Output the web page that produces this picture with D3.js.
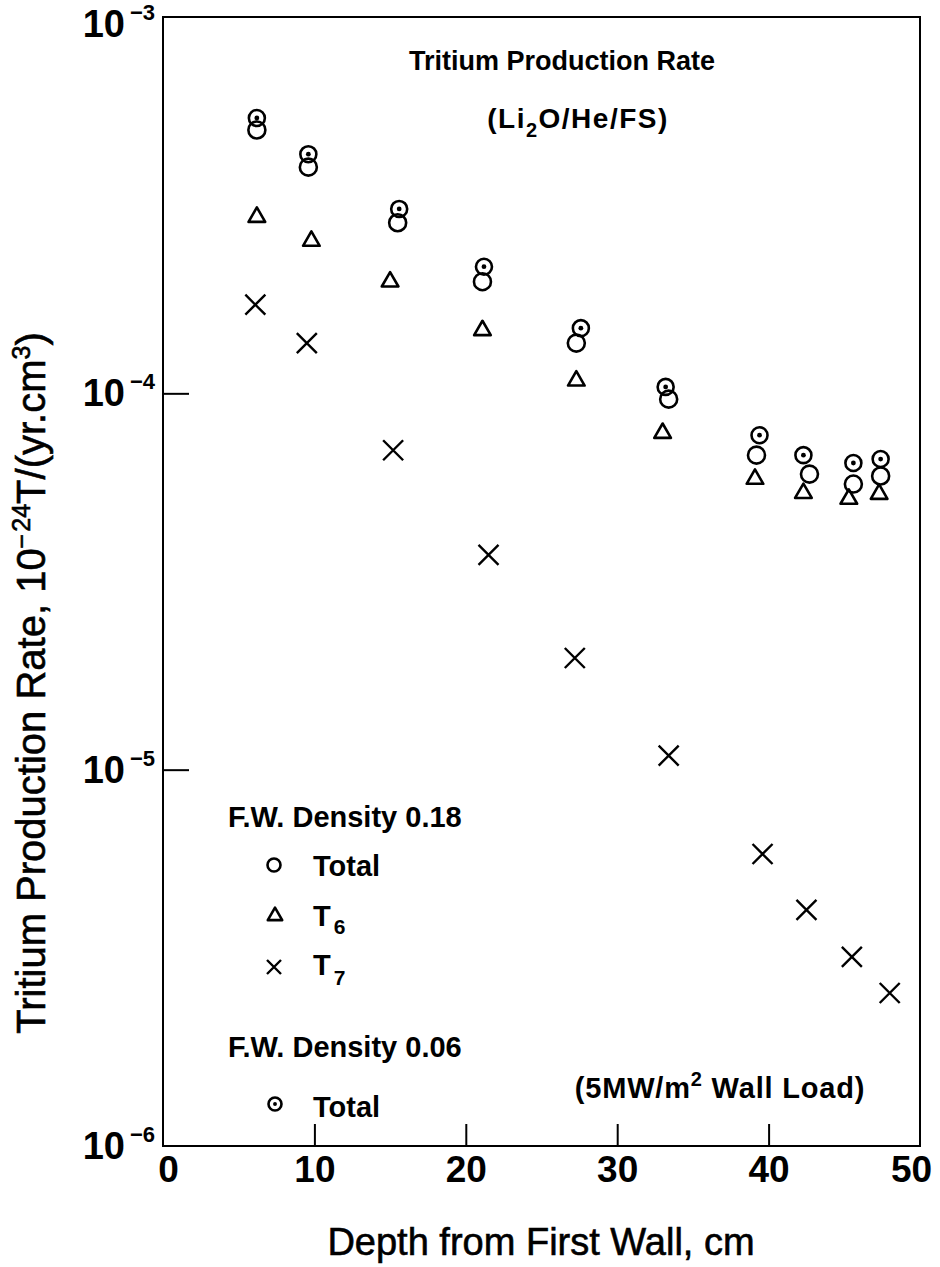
<!DOCTYPE html>
<html>
<head>
<meta charset="utf-8">
<script src="https://cdn.jsdelivr.net/npm/d3@7"></script>
<style>
  html, body { margin: 0; padding: 0; background: #fff; }
  svg { display: block; }
  text { font-family: "Liberation Sans", Arial, Helvetica, sans-serif; fill: #000; }
</style>
</head>
<body>
<svg id="chart" width="940" height="1267"></svg>
<script>
// Depth from first wall (cm) for each series
const depthTotal018 = [6.2, 9.6, 15.5, 21.1, 27.3, 33.4, 39.2, 42.7, 45.6, 47.4];
const depthTotal006 = [6.2, 9.6, 15.6, 21.2, 27.6, 33.2, 39.4, 42.3, 45.6, 47.4];
const depthT6       = [6.2, 9.8, 15.0, 21.1, 27.3, 33.0, 39.1, 42.3, 45.3, 47.3];
const depthT7       = [6.1, 9.5, 15.2, 21.5, 27.2, 33.4, 39.6, 42.5, 45.5, 48.0];

// Tritium production rate, 10^-24 T/(yr.cm3)
const total018 = [5.01e-4, 3.99e-4, 2.84e-4, 1.98e-4, 1.36e-4, 9.65e-5, 6.85e-5, 6.10e-5, 5.74e-5, 6.03e-5];
const total006 = [5.39e-4, 4.32e-4, 3.09e-4, 2.17e-4, 1.49e-4, 1.04e-4, 7.74e-5, 6.85e-5, 6.53e-5, 6.69e-5];
const t6       = [2.94e-4, 2.54e-4, 1.98e-4, 1.47e-4, 1.08e-4, 7.84e-5, 5.92e-5, 5.43e-5, 5.24e-5, 5.40e-5];
const t7       = [1.72e-4, 1.36e-4, 7.06e-5, 3.72e-5, 1.98e-5, 1.09e-5, 5.97e-6, 4.24e-6, 3.18e-6, 2.55e-6];

const xTicks = [0, 10, 20, 30, 40, 50];
const yTicks = [1e-3, 1e-4, 1e-5, 1e-6];
const yExponents = ["-3", "-4", "-5", "-6"];

const svg = d3.select("#chart");
const plotLeft = 163, plotRight = 920, plotTop = 17, plotBottom = 1146;

const x = d3.scaleLinear().domain([0, 50]).range([plotLeft, plotRight]);
const y = d3.scaleLog().domain([1e-6, 1e-3]).range([plotBottom, plotTop]);

// plot frame
svg.append("rect")
  .attr("x", plotLeft).attr("y", plotTop)
  .attr("width", plotRight - plotLeft).attr("height", plotBottom - plotTop)
  .attr("fill", "none").attr("stroke", "#000").attr("stroke-width", 2);

// x axis: inward ticks, bold numbers
const xAxis = svg.append("g")
  .attr("transform", `translate(0,${plotBottom})`)
  .call(d3.axisBottom(x).tickValues(xTicks).tickSizeInner(-22).tickSizeOuter(0).tickFormat(d3.format("d")));
xAxis.select(".domain").remove();
xAxis.selectAll(".tick line").attr("stroke", "#000").attr("stroke-width", 2)
  .filter(d => d === 0 || d === 50).remove();
xAxis.selectAll(".tick text")
  .attr("font-size", 37).attr("font-weight", "bold")
  .attr("font-family", "Liberation Sans, Arial, sans-serif")
  .attr("y", 10).attr("dy", "0.71em")
  .attr("x", d => d === 0 ? 5 : (d === 50 ? -9 : 0));

// y axis: inward ticks, powers of ten
const yAxis = svg.append("g")
  .attr("transform", `translate(${plotLeft},0)`)
  .call(d3.axisLeft(y).tickValues(yTicks).tickSizeInner(-26).tickSizeOuter(0).tickFormat(() => ""));
yAxis.select(".domain").remove();
yAxis.selectAll(".tick line").attr("stroke", "#000").attr("stroke-width", 2)
  .filter(d => d === 1e-3 || d === 1e-6).remove();
yAxis.selectAll(".tick text").remove();

const yLabels = svg.append("g");
yTicks.forEach((v, i) => {
  const base = Math.max(y(v) + 13, 37);
  const t = yLabels.append("text")
    .attr("x", 155).attr("y", base)
    .attr("text-anchor", "end")
    .attr("font-weight", "bold");
  t.append("tspan").attr("font-size", 38).text("10");
  t.append("tspan").attr("font-size", 22).attr("dx", 5).attr("dy", -17).text(yExponents[i].replace("-", "\u2212"));
});

// axis titles
svg.append("text")
  .attr("x", 541).attr("y", 1255)
  .attr("text-anchor", "middle")
  .attr("font-size", 38)
  .attr("stroke", "#000").attr("stroke-width", 0.6)
  .text("Depth from First Wall, cm");

const yTitle = svg.append("text")
  .attr("transform", "translate(45,683) rotate(-90)")
  .attr("text-anchor", "middle")
  .attr("font-size", 40)
  .attr("stroke", "#000").attr("stroke-width", 0.6);
yTitle.append("tspan").text("Tritium Production Rate, 10");
yTitle.append("tspan").attr("font-size", 25).attr("dy", -15).text("\u2212\u200a24");
yTitle.append("tspan").attr("dy", 15).text("T/(yr.cm");
yTitle.append("tspan").attr("font-size", 25).attr("dy", -15).text("3");
yTitle.append("tspan").attr("dy", 15).text(")");

// chart heading
svg.append("text")
  .attr("x", 562).attr("y", 70)
  .attr("text-anchor", "middle")
  .attr("font-size", 27).attr("font-weight", "bold")
  .text("Tritium Production Rate");
const sub = svg.append("text")
  .attr("x", 578).attr("y", 128)
  .attr("text-anchor", "middle")
  .attr("font-size", 28).attr("font-weight", "bold")
  .attr("letter-spacing", 1.5);
sub.append("tspan").text("(Li");
sub.append("tspan").attr("font-size", 20).attr("dy", 9).text("2");
sub.append("tspan").attr("dy", -9).text("O/He/FS)");

// marker drawing helpers
function openCircle(g, cx, cy, r) {
  g.append("circle").attr("cx", cx).attr("cy", cy).attr("r", r)
    .attr("fill", "none").attr("stroke", "#000").attr("stroke-width", 2.6);
}
function dotCircle(g, cx, cy, r) {
  openCircle(g, cx, cy, r);
  g.append("circle").attr("cx", cx).attr("cy", cy).attr("r", r * 0.3).attr("fill", "#000");
}
function triangle(g, cx, cy, s) {
  g.append("path")
    .attr("transform", `translate(${cx},${cy})`)
    .attr("d", d3.symbol().type(d3.symbolTriangle).size(s)())
    .attr("fill", "none").attr("stroke", "#000").attr("stroke-width", 2.6).attr("stroke-linejoin", "round");
}
function cross(g, cx, cy, h) {
  g.append("path")
    .attr("d", `M${cx - h},${cy - h}L${cx + h},${cy + h}M${cx - h},${cy + h}L${cx + h},${cy - h}`)
    .attr("fill", "none").attr("stroke", "#000").attr("stroke-width", 2.4);
}

const marks = svg.append("g");
t6.forEach((v, i) => triangle(marks, x(depthT6[i]), y(v), 120));
t7.forEach((v, i) => cross(marks, x(depthT7[i]), y(v), 10));
total018.forEach((v, i) => openCircle(marks, x(depthTotal018[i]), y(v), 8.5));
total006.forEach((v, i) => dotCircle(marks, x(depthTotal006[i]), y(v), 8));

// legend
const lg = svg.append("g").attr("font-weight", "bold").attr("font-size", 29);
lg.append("text").attr("x", 228).attr("y", 827).text("F.W. Density 0.18");
openCircle(lg, 274, 865, 6.5);
lg.append("text").attr("x", 313).attr("y", 876).text("Total");
triangle(lg, 275, 916, 90);
const l6 = lg.append("text").attr("x", 313).attr("y", 926);
l6.append("tspan").text("T");
l6.append("tspan").attr("font-size", 21).attr("dx", 3).attr("dy", 8).text("6");
cross(lg, 274, 967, 7);
const l7 = lg.append("text").attr("x", 313).attr("y", 975);
l7.append("tspan").text("T");
l7.append("tspan").attr("font-size", 21).attr("dx", 3).attr("dy", 10).text("7");
lg.append("text").attr("x", 228).attr("y", 1057).text("F.W. Density 0.06");
dotCircle(lg, 275, 1104, 6.5);
lg.append("text").attr("x", 313).attr("y", 1117).text("Total");

const wl = lg.append("text").attr("x", 720).attr("y", 1098).attr("text-anchor", "middle")
  .attr("letter-spacing", 0.8);
wl.append("tspan").text("(5MW/m");
wl.append("tspan").attr("font-size", 20).attr("dy", -12).text("2");
wl.append("tspan").attr("dy", 12).text(" Wall Load)");
</script>
</body>
</html>
